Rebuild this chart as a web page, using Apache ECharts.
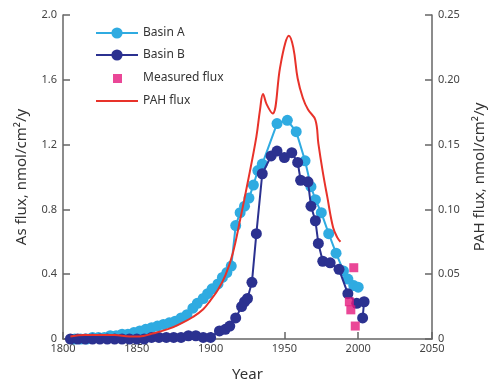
<!DOCTYPE html>
<html>
<head>
<meta charset="utf-8">
<script src="https://cdn.jsdelivr.net/npm/echarts@6/dist/echarts.min.js"></script>
<style>
html,body{margin:0;padding:0;background:#fff;}
#chart{width:497px;height:387px;}
</style>
</head>
<body>
<div id="chart"></div>
<script>
// ---- Data ----
var basinAYears  = [1808,1812,1816,1820,1824,1828,1832,1836,1840,1844,1848,1852,1856,1860,1864,1868,1872,1876,1880,1884,1888,1891,1895,1898,1901,1905,1908,1911,1914,1917,1920,1923,1926,1929,1932,1935,1945,1952,1958,1964,1968,1971,1975,1980,1985,1990,1993,1997,2000];
var basinAValues = [0.00,0.00,0.00,0.01,0.01,0.01,0.02,0.02,0.03,0.03,0.04,0.05,0.06,0.07,0.08,0.09,0.10,0.11,0.13,0.15,0.19,0.22,0.25,0.28,0.31,0.34,0.38,0.41,0.45,0.70,0.78,0.82,0.87,0.95,1.04,1.08,1.33,1.35,1.28,1.10,0.94,0.86,0.78,0.65,0.53,0.42,0.37,0.33,0.32];

var basinBYears  = [1805,1810,1815,1820,1825,1830,1835,1840,1845,1850,1855,1860,1865,1870,1875,1880,1885,1890,1895,1900,1906,1910,1913,1917,1921,1923,1925,1928,1931,1935,1941,1945,1950,1955,1959,1961,1966,1968,1971,1973,1976,1981,1987,1993,1999,2004,2003];
var basinBValues = [0.00,0.00,0.00,0.00,0.00,0.00,0.00,0.00,0.00,0.00,0.00,0.01,0.01,0.01,0.01,0.01,0.02,0.02,0.01,0.01,0.05,0.06,0.08,0.13,0.20,0.23,0.25,0.35,0.65,1.02,1.13,1.16,1.12,1.15,1.09,0.98,0.97,0.82,0.73,0.59,0.48,0.47,0.43,0.28,0.22,0.23,0.13];

var measuredYears  = [1997,1994,1995,1998];
var measuredValues = [0.44,0.23,0.18,0.08];

var pahYears  = [1805,1815,1825,1835,1845,1852,1860,1872,1880,1888,1895,1900,1905,1910,1915,1920,1925,1931,1933.5,1935.5,1938,1942,1947,1950.5,1953,1956,1959,1962.5,1966,1971,1973,1976,1979,1983,1986,1988];
var pahValues = [0.002,0.003,0.003,0.003,0.002,0.002,0.004,0.008,0.012,0.017,0.023,0.030,0.038,0.049,0.066,0.092,0.120,0.156,0.177,0.189,0.181,0.174,0.209,0.228,0.234,0.225,0.201,0.186,0.177,0.169,0.151,0.129,0.110,0.086,0.078,0.075];

var xTicks = {min:1800, max:2050, interval:50};
var leftTicks = {min:0, max:2.0, interval:0.4};
var rightTicks = {min:0, max:0.25, interval:0.05};

function pairs(xs, ys){ return xs.map(function(x,i){ return [x, ys[i]]; }); }

var axisColor = '#666';
var labelColor = '#444';
var fontFam = 'Noto Sans, sans-serif';

var chart = echarts.init(document.getElementById('chart'), null, {renderer:'canvas'});
chart.setOption({
  animation:false,
  backgroundColor:'#fff',
  textStyle:{fontFamily:fontFam},
  grid:{left:63, right:65, top:15, bottom:38, containLabel:false},
  legend:{
    orient:'vertical', left:90, top:22, padding:5,
    itemWidth:42, itemHeight:14, itemGap:10,
    textStyle:{color:'#333', fontSize:12, fontFamily:fontFam},
    data:[
      {name:'Basin A'},
      {name:'Basin B'},
      {name:'Measured flux', icon:'path://M0,0M14,14M3,3h9v9h-9z'},
      {name:'PAH flux', itemStyle:{opacity:0}}
    ]
  },
  xAxis:{
    type:'value', min:xTicks.min, max:xTicks.max, interval:xTicks.interval,
    name:'Year', nameLocation:'middle', nameGap:28,
    nameTextStyle:{fontSize:15, color:'#333', fontFamily:fontFam},
    axisLine:{show:true, lineStyle:{color:axisColor, width:1.5}},
    axisTick:{show:true, inside:true, length:7, lineStyle:{color:axisColor, width:1.5}},
    axisLabel:{color:labelColor, fontSize:11, margin:4, formatter:function(v){return String(v);}},
    splitLine:{show:false}
  },
  yAxis:[
    {
      type:'value', position:'left', min:leftTicks.min, max:leftTicks.max, interval:leftTicks.interval,
      name:'As flux, nmol/cm²/y', nameLocation:'middle', nameGap:34, nameRotate:90,
      nameTextStyle:{fontSize:15, color:'#333', fontFamily:fontFam},
      axisLine:{show:true, lineStyle:{color:axisColor, width:1.5}},
      axisTick:{show:true, inside:true, length:7, lineStyle:{color:axisColor, width:1.5}},
      axisLabel:{color:labelColor, fontSize:11, margin:6, formatter:function(v){return v===0?'0':v.toFixed(1);}},
      splitLine:{show:false}
    },
    {
      type:'value', position:'right', min:rightTicks.min, max:rightTicks.max, interval:rightTicks.interval,
      name:'PAH flux, nmol/cm²/y', nameLocation:'middle', nameGap:40, nameRotate:90,
      nameTextStyle:{fontSize:15, color:'#333', fontFamily:fontFam},
      axisLine:{show:true, lineStyle:{color:axisColor, width:1.5}},
      axisTick:{show:true, inside:true, length:7, lineStyle:{color:axisColor, width:1.5}},
      axisLabel:{color:labelColor, fontSize:11, margin:6, formatter:function(v){return v===0?'0':v.toFixed(2);}},
      splitLine:{show:false}
    }
  ],
  series:[
    {
      name:'Basin A', type:'line', yAxisIndex:0, clip:false,
      data:pairs(basinAYears, basinAValues),
      symbol:'circle', symbolSize:11, showAllSymbol:true,
      itemStyle:{color:'#2fabe1'},
      lineStyle:{color:'#2fabe1', width:2},
      z:2
    },
    {
      name:'Basin B', type:'line', yAxisIndex:0, clip:false,
      data:pairs(basinBYears, basinBValues),
      symbol:'circle', symbolSize:11, showAllSymbol:true,
      itemStyle:{color:'#2b3190'},
      lineStyle:{color:'#2b3190', width:2},
      z:3
    },
    {
      name:'PAH flux', type:'line', yAxisIndex:1, clip:false,
      data:pairs(pahYears, pahValues),
      symbol:'none', smooth:0.4,
      itemStyle:{color:'#e8322a'},
      lineStyle:{color:'#e8322a', width:2},
      z:4
    },
    {
      name:'Measured flux', type:'scatter', yAxisIndex:0, clip:false,
      data:pairs(measuredYears, measuredValues),
      symbol:'rect', symbolSize:9, symbolKeepAspect:true,
      itemStyle:{color:'#e5197d'},
      z:5
    }
  ]
});
</script>
</body>
</html>
